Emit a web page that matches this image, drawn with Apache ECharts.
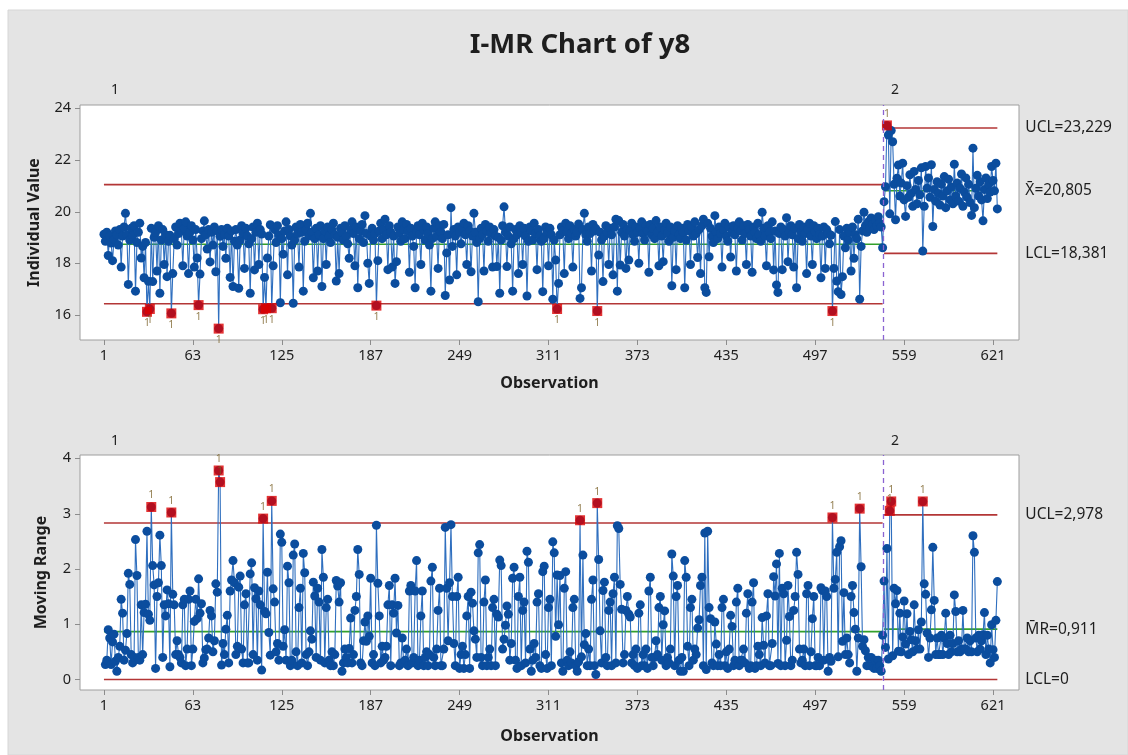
<!DOCTYPE html>
<html>
<head>
<meta charset="utf-8">
<script src="https://cdn.jsdelivr.net/npm/echarts@6/dist/echarts.min.js"></script>
<style>
  html, body { margin: 0; padding: 0; background: #ffffff; }
  #chart { width: 1128px; height: 755px; }
</style>
</head>
<body>
<div id="chart"></div>
<script>
// Axis tick values
const observationTicks = [1, 63, 125, 187, 249, 311, 373, 435, 497, 559, 621];
const individualTicks = [16, 18, 20, 22, 24];
const rangeTicks = [0, 1, 2, 3, 4];

// Stages (historical groups) and first observation of each
const stageNames = ['1', '2'];
const stageFirstObs = [1, 545];

// Individual values of y8, stage 1 (observations 1-544)
const stage1Values = [
  19.12, 18.85, 19.20, 18.30, 19.05, 18.78, 18.10, 18.92, 19.25, 19.10,
  18.70, 19.30, 17.85, 19.05, 19.40, 19.93, 19.10, 17.18, 18.90, 19.35,
  19.05, 19.45, 16.92, 18.80, 19.20, 19.55, 18.20, 18.65, 17.44, 18.80,
  16.12, 17.30, 16.23, 19.35, 17.29, 19.00, 19.20, 17.70, 19.45, 16.84,
  18.90, 19.30, 17.95, 19.10, 17.48, 18.85, 19.08, 16.06, 17.60, 18.95,
  19.40, 18.70, 19.15, 19.55, 19.25, 17.90, 19.35, 19.60, 19.05, 17.60,
  19.20, 19.45, 18.90, 17.85, 19.30, 18.20, 16.38, 17.58, 18.95, 19.25,
  19.64, 19.10, 18.55, 19.30, 18.05, 19.20, 18.70, 19.40, 17.67, 19.25,
  15.47, 19.04, 19.30, 18.65, 19.10, 18.19, 19.35, 19.05, 17.45, 19.25,
  17.10, 18.85, 19.30, 18.70, 17.03, 18.90, 19.45, 19.15, 17.80, 19.35,
  19.05, 18.75, 16.84, 18.95, 19.40, 17.74, 19.20, 19.55, 17.95, 19.30,
  19.13, 16.22, 17.45, 16.26, 18.20, 19.05, 19.49, 16.26, 17.90, 19.30,
  18.80, 19.45, 19.10, 16.47, 18.95, 18.35, 19.25, 19.60, 17.55, 19.30,
  19.05, 18.70, 16.45, 18.90, 19.40, 19.15, 17.85, 19.50, 19.20, 16.92,
  18.85, 19.30, 19.55, 19.05, 19.93, 19.20, 17.44, 18.95, 19.35, 17.70,
  19.10, 19.45, 17.10, 18.95, 19.25, 17.95, 19.40, 19.05, 18.80, 19.30,
  19.55, 19.10, 17.31, 19.00, 17.60, 19.35, 19.20, 18.90, 19.45, 19.05,
  18.75, 18.19, 19.30, 19.60, 19.15, 17.90, 19.40, 17.05, 18.95, 19.25,
  19.50, 18.80, 19.84, 19.15, 18.00, 17.22, 19.05, 19.35, 18.90, 19.15,
  16.36, 18.10, 19.25, 19.55, 18.95, 19.30, 19.70, 19.10, 17.75, 19.45,
  19.20, 17.85, 19.05, 17.22, 18.06, 19.40, 19.15, 18.85, 19.60, 19.30,
  18.95, 19.50, 19.25, 17.65, 19.35, 19.05, 18.65, 17.05, 19.20, 19.45,
  19.10, 17.95, 19.55, 19.30, 18.90, 19.40, 19.15, 18.70, 16.92, 18.95,
  19.35, 19.60, 19.05, 17.80, 19.45, 19.20, 18.95, 19.50, 16.75, 18.40,
  19.10, 17.35, 20.15, 18.65, 19.30, 19.05, 17.55, 19.40, 19.20, 18.75,
  19.35, 19.55, 19.10, 17.95, 19.45, 19.25, 17.67, 19.05, 19.93, 19.20,
  18.80, 16.51, 18.95, 19.35, 19.10, 17.70, 19.50, 19.25, 18.85, 19.40,
  19.15, 17.85, 19.30, 19.05, 17.87, 19.00, 16.84, 18.90, 19.45, 20.18,
  19.20, 17.87, 19.05, 19.40, 18.75, 16.92, 18.95, 19.30, 19.10, 17.60,
  19.45, 19.20, 17.95, 19.35, 19.05, 16.73, 18.85, 19.40, 19.25, 18.90,
  19.55, 19.15, 17.75, 19.30, 19.05, 18.85, 16.90, 18.95, 19.40, 19.20,
  17.90, 19.35, 19.10, 16.61, 18.90, 18.12, 16.23, 17.22, 19.10, 19.40,
  19.25, 17.60, 19.55, 19.20, 18.95, 19.45, 19.15, 17.85, 19.30, 19.05,
  19.20, 19.52, 16.64, 17.05, 19.30, 19.93, 19.10, 18.85, 19.40, 19.15,
  17.70, 19.50, 19.25, 19.34, 16.15, 18.32, 19.20, 18.90, 17.29, 19.05,
  19.45, 19.20, 17.95, 19.35, 19.10, 17.55, 19.40, 19.70, 16.92, 19.65,
  17.93, 19.20, 19.50, 19.05, 17.80, 19.30, 18.12, 19.25, 19.55, 19.10,
  18.85, 19.40, 19.20, 18.00, 19.35, 19.60, 19.15, 18.90, 19.45, 19.25,
  17.65, 19.50, 19.10, 19.35, 18.95, 19.65, 19.20, 17.90, 19.40, 19.05,
  18.06, 19.30, 19.55, 19.15, 18.85, 19.40, 17.13, 19.00, 19.25, 17.75,
  19.45, 19.10, 18.95, 19.35, 19.20, 17.05, 18.90, 19.50, 19.25, 17.95,
  19.40, 19.05, 19.60, 19.15, 18.22, 19.30, 17.60, 19.45, 19.70, 17.05,
  16.87, 19.55, 18.25, 19.35, 19.05, 18.80, 19.84, 19.20, 18.95, 19.40,
  19.15, 17.85, 19.30, 19.55, 19.05, 18.85, 19.40, 18.24, 19.20, 19.45,
  19.10, 17.70, 19.35, 19.60, 19.25, 18.90, 19.45, 19.15, 17.95, 19.50,
  19.30, 19.05, 17.65, 19.40, 19.20, 18.95, 19.55, 19.10, 18.85, 19.97,
  19.35, 19.05, 17.90, 19.45, 19.20, 18.95, 19.60, 17.74, 19.25, 17.16,
  16.87, 19.15, 19.40, 17.75, 19.30, 19.05, 19.76, 18.06, 19.20, 19.45,
  19.10, 17.85, 19.35, 17.05, 18.95, 19.50, 19.20, 18.85, 19.40, 19.15,
  17.60, 19.30, 19.55, 19.05, 17.95, 19.45, 19.20, 18.95, 19.35, 19.10,
  17.44, 19.05, 19.40, 17.80, 19.30, 19.15, 18.75, 19.08, 16.15, 17.80,
  19.61, 17.31, 16.90, 19.30, 16.79, 17.48, 19.05, 18.60, 19.35, 18.90,
  19.20, 17.70, 19.40, 18.19, 19.10, 18.95, 19.70, 16.61, 18.65, 19.25,
  19.97, 19.45, 19.20, 19.60, 19.35, 19.75, 19.50, 19.30, 19.65, 19.45,
  19.80, 19.55, 19.40, 18.60
];

// Individual values of y8, stage 2 (observations 545-624)
const stage2Values = [
  20.38, 20.96, 23.33, 22.96, 19.91, 23.13,
  22.70, 21.05, 19.68, 21.29, 21.80, 20.60, 21.10, 21.87, 20.45, 19.81,
  21.00, 20.55, 21.42, 20.70, 20.20, 21.55, 20.85, 20.30, 21.20, 20.65,
  21.69, 18.47, 20.20, 21.74, 20.90, 21.30, 20.55, 21.81, 19.42, 20.85,
  20.40, 21.15, 20.70, 20.25, 21.05, 20.60, 21.35, 20.15, 20.80, 21.25,
  20.45, 20.95, 20.30, 21.83, 20.60, 21.10, 20.40, 20.90, 21.45, 20.20,
  20.75, 21.30, 20.55, 21.05, 20.35, 19.85, 22.45, 20.15, 20.90, 21.40,
  20.60, 21.15, 20.45, 19.64, 20.85, 21.30, 20.50, 21.05, 20.75, 21.74,
  21.20, 20.80, 21.87, 20.10
];

// Control limits per stage
const individualCenter = [18.735, 20.805];
const individualUCL = [21.039, 23.229];
const individualLCL = [16.431, 18.381];
const rangeCenter = [0.866, 0.911];
const rangeUCL = [2.829, 2.978];
const rangeLCL = [0, 0];

const FONT = '"Noto Sans", "Open Sans", "DejaVu Sans", sans-serif';
const TEXT = '#1e1e1e';
const LIMIT_RED = '#b33636';
const CENTER_GREEN = '#33a02c';
const POINT_BLUE = '#0b4d9e';
const LINE_BLUE = '#2f6fbf';
const FLAG_RED = '#dc0000';
const TICK_GREY = '#8c8c8c';

const values = stage1Values.concat(stage2Values);
const stageLastObs = [stageFirstObs[1] - 1, values.length];
const stageOf = obs => (obs >= stageFirstObs[1] ? 1 : 0);
const fmt = v => (v === 0 ? '0' : v.toFixed(3).replace('.', ','));

// Individual points and moving ranges of span 2
const iPoints = values.map((v, i) => [i + 1, v]);
const mrPoints = [];
for (let i = 1; i < values.length; i++) {
  mrPoints.push([i + 1, Math.round(Math.abs(values[i] - values[i - 1]) * 1000) / 1000]);
}

// Points failing test 1 (beyond the limits of their stage)
const iFlagged = iPoints
  .filter(([x, v]) => v > individualUCL[stageOf(x)] || v < individualLCL[stageOf(x)])
  .map(([x, v]) => ({
    value: [x, v],
    label: { position: v > individualUCL[stageOf(x)] ? 'top' : 'bottom' }
  }));
const mrFlagged = mrPoints
  .filter(([x, v]) => v > rangeUCL[stageOf(x)])
  .map(p => ({ value: p, label: { position: 'top' } }));

function limitLines(gridIdx, levels, color, labelText, withDivider) {
  return levels.map((lvl, s) => {
    const series = {
      type: 'line',
      xAxisIndex: gridIdx,
      yAxisIndex: gridIdx,
      symbol: 'none',
      silent: true,
      z: 1,
      animation: false,
      lineStyle: { color: color, width: 1.6 },
      data: [[stageFirstObs[s], lvl], [stageLastObs[s], lvl]]
    };
    if (s === 1 && labelText) {
      series.endLabel = {
        show: true,
        formatter: labelText + fmt(lvl),
        distance: 28,
        color: TEXT,
        fontSize: 15.5,
        fontFamily: FONT
      };
    }
    if (withDivider && s === 0) {
      series.markLine = {
        silent: true,
        symbol: 'none',
        animation: false,
        label: { show: false },
        lineStyle: { type: [5, 4], color: '#8a63d2', width: 1.3 },
        data: [{ xAxis: (stageLastObs[0] + stageFirstObs[1]) / 2 }]
      };
    }
    return series;
  });
}

function xAxisFor(gridIdx, nameGap) {
  return {
    type: 'value',
    gridIndex: gridIdx,
    min: -15.7,
    max: 639.1,
    name: 'Observation',
    nameLocation: 'middle',
    nameGap: nameGap,
    nameTextStyle: { fontFamily: FONT, fontSize: 16, fontWeight: 'bold', color: TEXT },
    axisLine: { show: false, onZero: false },
    axisTick: { show: true, customValues: observationTicks, length: 5, lineStyle: { color: TICK_GREY } },
    axisLabel: { customValues: observationTicks, fontFamily: FONT, fontSize: 14.5, color: TEXT, margin: 8 },
    splitLine: { show: false }
  };
}

function yAxisFor(gridIdx, name, min, max, ticks, nameGap) {
  return {
    type: 'value',
    gridIndex: gridIdx,
    position: 'left',
    min: min,
    max: max,
    name: name,
    nameLocation: 'middle',
    nameGap: nameGap,
    nameTextStyle: { fontFamily: FONT, fontSize: 16, fontWeight: 'bold', color: TEXT },
    axisLine: { show: false, onZero: false },
    axisTick: { show: false },
    axisLabel: { customValues: ticks, fontFamily: FONT, fontSize: 14.5, color: TEXT, margin: 9 },
    splitLine: { show: false }
  };
}

const dataSeries = (gridIdx, data) => ({
  type: 'line',
  xAxisIndex: gridIdx,
  yAxisIndex: gridIdx,
  data: data,
  z: 3,
  animation: false,
  showSymbol: true,
  showAllSymbol: true,
  symbol: 'circle',
  symbolSize: 9,
  sampling: null,
  itemStyle: { color: POINT_BLUE },
  lineStyle: { color: LINE_BLUE, width: 1.1 }
});

const flagSeries = (gridIdx, data) => ({
  type: 'scatter',
  xAxisIndex: gridIdx,
  yAxisIndex: gridIdx,
  data: data,
  z: 4,
  animation: false,
  symbol: 'rect',
  symbolSize: 10,
  itemStyle: { color: FLAG_RED },
  label: {
    show: true,
    formatter: '1',
    distance: 1,
    fontFamily: FONT,
    fontSize: 10.5,
    color: '#7a6128'
  }
});

const chart = echarts.init(document.getElementById('chart'));

chart.setOption({
  backgroundColor: '#ffffff',
  animation: false,
  title: {
    text: 'I-MR Chart of y8',
    left: 575,
    textAlign: 'center',
    top: 26,
    textStyle: { fontFamily: FONT, fontSize: 27.5, fontWeight: 'bold', color: TEXT }
  },
  grid: [
    { left: 80, top: 105, width: 939, height: 235, show: true, backgroundColor: '#ffffff', borderColor: '#9e9e9e', borderWidth: 1 },
    { left: 80, top: 455, width: 939, height: 235, show: true, backgroundColor: '#ffffff', borderColor: '#9e9e9e', borderWidth: 1 }
  ],
  xAxis: [xAxisFor(0, 35), xAxisFor(1, 38)],
  yAxis: [
    yAxisFor(0, 'Individual Value', 15.03, 24.12, individualTicks, 38),
    yAxisFor(1, 'Moving Range', -0.19, 4.06, rangeTicks, 31)
  ],
  series: [
    ...limitLines(0, individualUCL, LIMIT_RED, 'UCL=', true),
    ...limitLines(0, individualLCL, LIMIT_RED, 'LCL=', false),
    ...limitLines(0, individualCenter, CENTER_GREEN, 'X\u0304=', false),
    dataSeries(0, iPoints),
    flagSeries(0, iFlagged),
    ...limitLines(1, rangeUCL, LIMIT_RED, 'UCL=', true),
    ...limitLines(1, rangeLCL, LIMIT_RED, 'LCL=', false),
    ...limitLines(1, rangeCenter, CENTER_GREEN, 'M\u0304R=', false),
    dataSeries(1, mrPoints),
    flagSeries(1, mrFlagged)
  ]
});

// Panel background, left tick marks on the value axes and stage numbers above each panel
const overlay = [{
  type: 'rect',
  z: -100,
  silent: true,
  shape: { x: 8, y: 10, width: 1120, height: 745 },
  style: { fill: '#e4e4e4', stroke: '#d6d6d6', lineWidth: 1 }
}];
[[0, individualTicks], [1, rangeTicks]].forEach(([gridIdx, ticks]) => {
  const left = chart.convertToPixel({ xAxisIndex: gridIdx }, -15.7);
  ticks.forEach(t => {
    const py = Math.round(chart.convertToPixel({ yAxisIndex: gridIdx }, t)) + 0.5;
    overlay.push({
      type: 'line',
      silent: true,
      z: 10,
      shape: { x1: left - 5, y1: py, x2: left, y2: py },
      style: { stroke: TICK_GREY, lineWidth: 1 }
    });
  });
  const y = gridIdx === 0 ? 90 : 441;
  stageNames.forEach((name, s) => {
    const px = chart.convertToPixel({ xAxisIndex: gridIdx }, stageFirstObs[s]) + 11;
    overlay.push({
      type: 'text',
      silent: true,
      x: px,
      y: y,
      style: { text: name, fill: TEXT, font: '14px ' + FONT, align: 'center', verticalAlign: 'middle' }
    });
  });
});
chart.setOption({ graphic: overlay });
</script>
</body>
</html>
